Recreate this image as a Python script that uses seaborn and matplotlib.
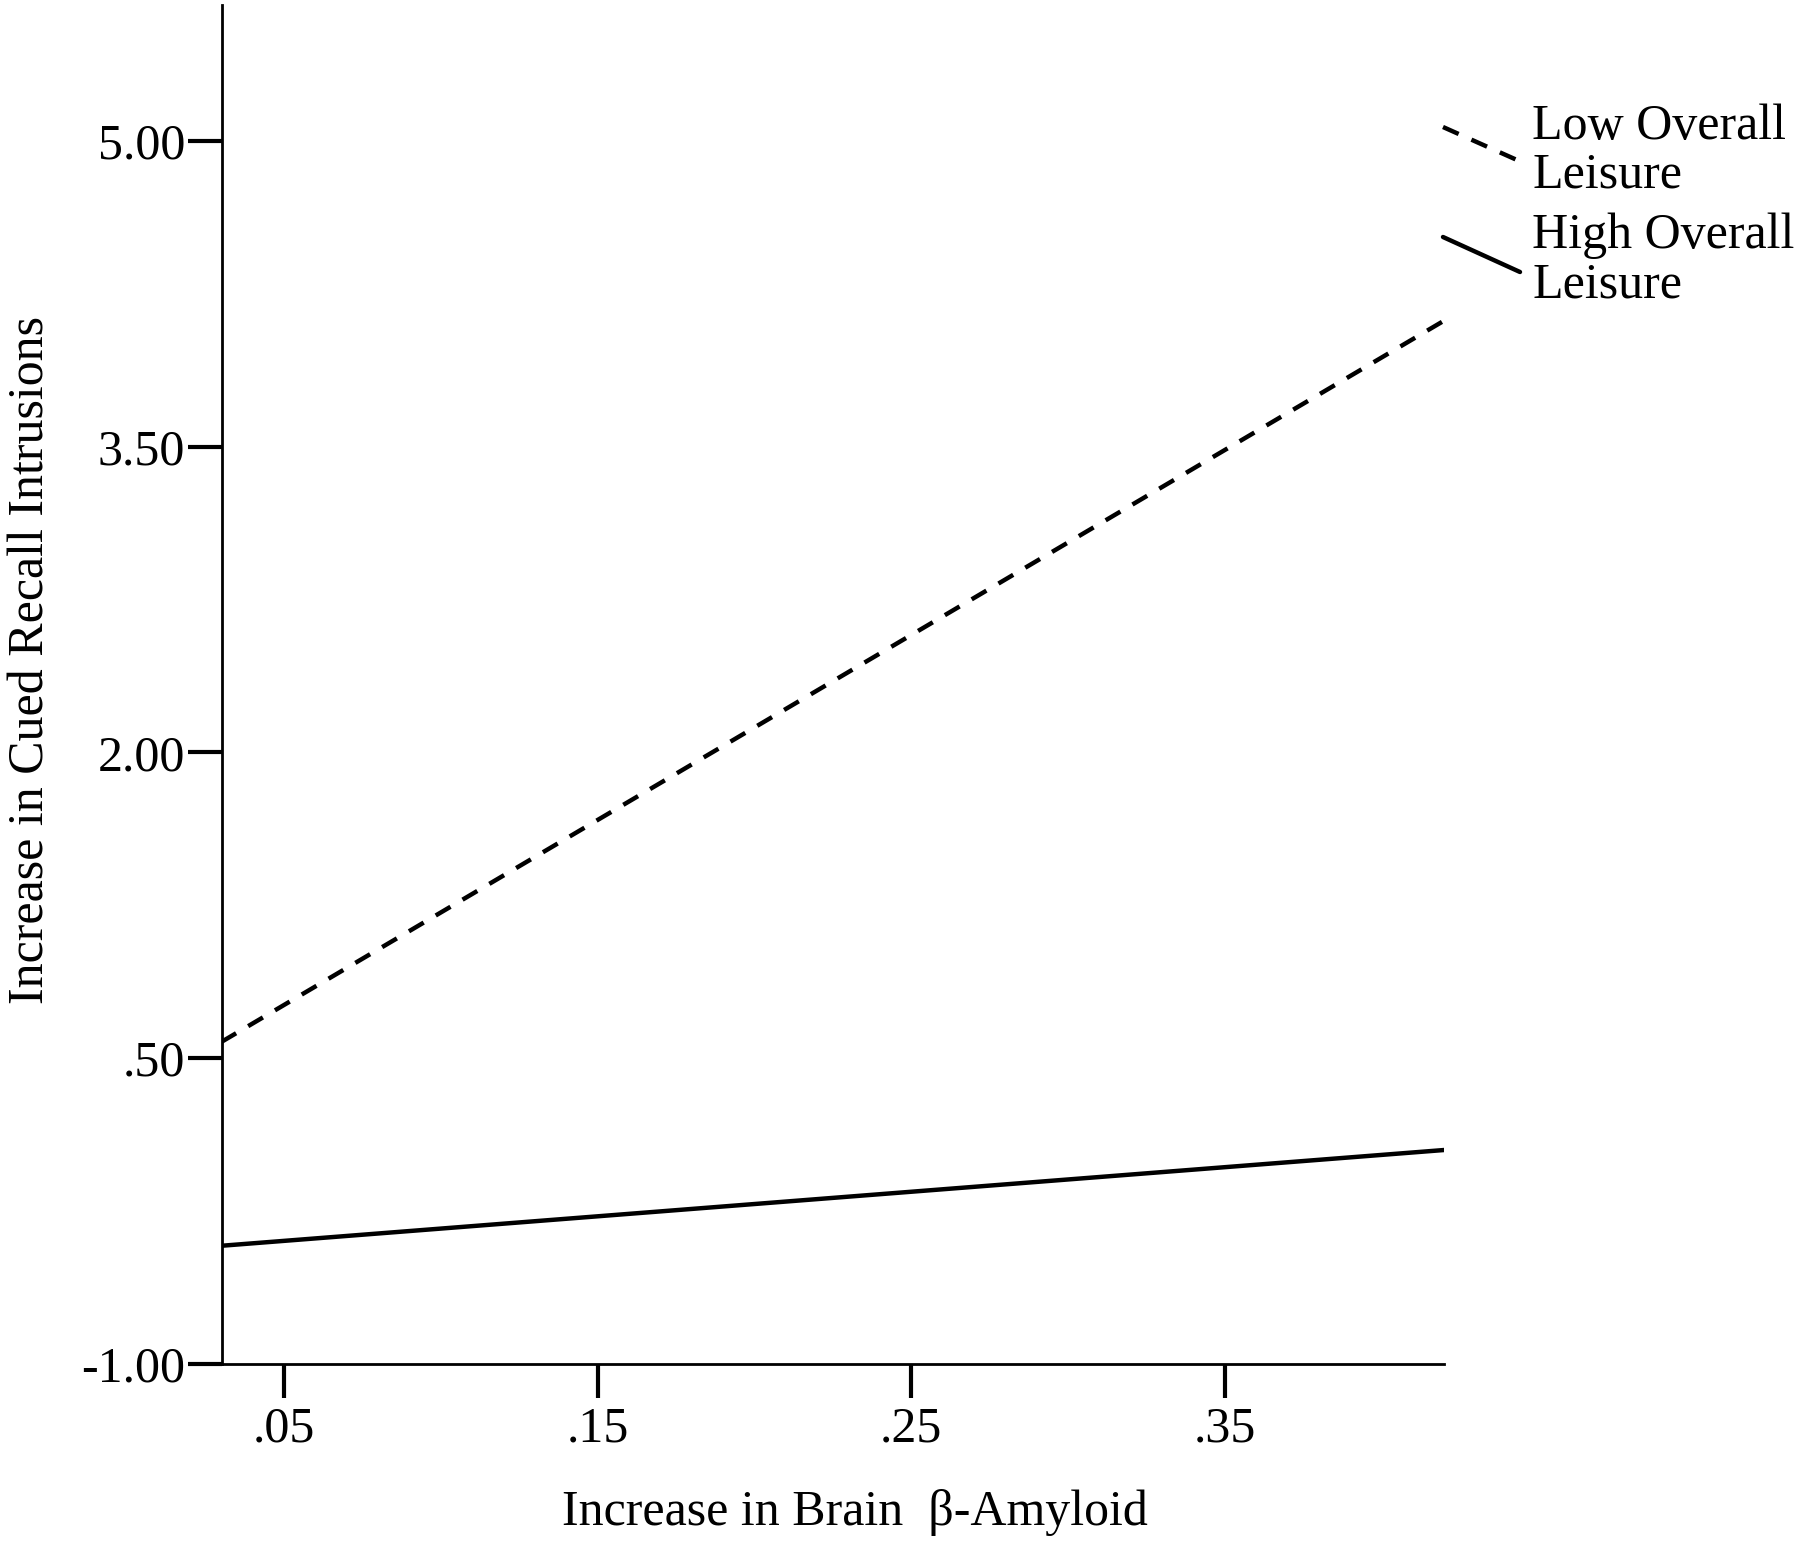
import matplotlib
matplotlib.use("Agg")
import matplotlib.pyplot as plt
import seaborn as sns
import pandas as pd
from matplotlib.lines import Line2D

# ---- data ----
amyloid = [0.03, 0.42]
low_leisure = [0.58, 4.12]
high_leisure = [-0.42, 0.05]
groups = ["Low Overall\nLeisure", "High Overall\nLeisure"]
x_ticks = [0.05, 0.15, 0.25, 0.35]
x_tick_labels = [".05", ".15", ".25", ".35"]
y_ticks = [-1.0, 0.5, 2.0, 3.5, 5.0]
y_tick_labels = ["-1.00", ".50", "2.00", "3.50", "5.00"]

sns.set_theme(style="ticks")
plt.rcParams['font.family'] = ['Liberation Serif', 'DejaVu Serif']

df = pd.DataFrame({
    "x": amyloid + amyloid,
    "y": low_leisure + high_leisure,
    "group": [groups[0]] * len(amyloid) + [groups[1]] * len(amyloid),
})

W, H = 1800, 1544
fig = plt.figure(figsize=(W / 100, H / 100), dpi=100)
fig.patch.set_facecolor("white")
L, R, B, T = 222, 1444, 1364, 5
ax = fig.add_axes([L / W, 1 - B / H, (R - L) / W, (B - T) / H])

LW = 3.2
DASH = (3.85, 3.15)
sns.lineplot(data=df, x="x", y="y", hue="group", style="group",
             palette={groups[0]: "black", groups[1]: "black"},
             dashes={groups[0]: DASH, groups[1]: ""},
             linewidth=LW, legend=False, ax=ax)

ax.set_xlim(0.0302, 0.4198)
ax.set_ylim(-1.0, 5.667)
ax.set_xticks(x_ticks)
ax.set_xticklabels(x_tick_labels)
ax.set_yticks(y_ticks)
ax.set_yticklabels(y_tick_labels)

for s in ["top", "right"]:
    ax.spines[s].set_visible(False)
for s in ["left", "bottom"]:
    ax.spines[s].set_linewidth(2.0)
    ax.spines[s].set_color("black")
ax.set_facecolor("white")

ax.tick_params(axis="both", direction="out", length=24.5, width=3.0,
               color="black", labelsize=36, labelcolor="black")
ax.tick_params(axis="y", pad=2)
ax.tick_params(axis="x", pad=6)

ax.set_xlabel("Increase in Brain  \u03b2-Amyloid", fontsize=36, color="black")
ax.set_ylabel("Increase in Cued Recall Intrusions", fontsize=36, color="black")
ax.xaxis.set_label_coords((855 - L) / (R - L), -(1489 - B) / (B - T))
ax.yaxis.set_label_coords(-(L - 55) / (R - L), (B - 660) / (B - T))

# ---- legend (outside, top right, diagonal handles) ----
def fx(px):
    return px / W

def fy(py):
    return 1 - py / H

fig.add_artist(Line2D([fx(1443), fx(1517)], [fy(127), fy(160)], color="black",
                      linewidth=LW, linestyle=(0, DASH),
                      transform=fig.transFigure))
fig.add_artist(Line2D([fx(1443), fx(1520)], [fy(237), fy(272)], color="black",
                      linewidth=LW, transform=fig.transFigure))
lines_txt = groups[0].split("\n") + groups[1].split("\n")
baselines = [139, 188, 248, 298]
for t, b in zip(lines_txt, baselines):
    fig.text(fx(1532), fy(b), t, fontsize=36, color="black",
             ha="left", va="baseline")

fig.savefig("out.png", dpi=100, facecolor="white")
